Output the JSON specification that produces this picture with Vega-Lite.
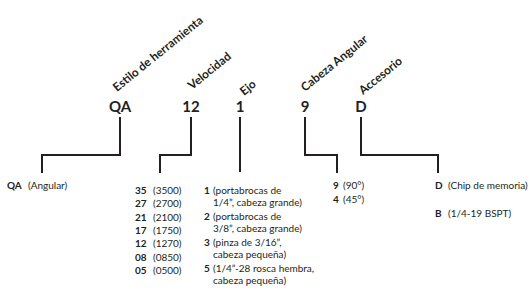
{
  "$schema": "https://vega.github.io/schema/vega-lite/v6.json",
  "width": 532,
  "height": 291,
  "padding": 0,
  "autosize": {"type": "fit", "contains": "padding"},
  "background": "white",
  "config": {"view": {"stroke": null}, "font": "Lato"},
  "datasets": {
    "lines": [
      {"g": "QA", "o": 1, "x": 120, "y": 117}, {"g": "QA", "o": 2, "x": 120, "y": 155}, {"g": "QA", "o": 3, "x": 42, "y": 155}, {"g": "QA", "o": 4, "x": 42, "y": 173},
      {"g": "12", "o": 1, "x": 191, "y": 117}, {"g": "12", "o": 2, "x": 191, "y": 155}, {"g": "12", "o": 3, "x": 160, "y": 155}, {"g": "12", "o": 4, "x": 160, "y": 173},
      {"g": "1", "o": 1, "x": 240, "y": 117}, {"g": "1", "o": 2, "x": 240, "y": 172},
      {"g": "9", "o": 1, "x": 305, "y": 117}, {"g": "9", "o": 2, "x": 305, "y": 155}, {"g": "9", "o": 3, "x": 337, "y": 155}, {"g": "9", "o": 4, "x": 337, "y": 173},
      {"g": "D", "o": 1, "x": 361, "y": 117}, {"g": "D", "o": 2, "x": 361, "y": 155}, {"g": "D", "o": 3, "x": 438, "y": 155}, {"g": "D", "o": 4, "x": 438, "y": 173}
    ],
    "heads": [
      {"t": "QA", "x": 120, "y": 112},
      {"t": "12", "x": 191, "y": 112},
      {"t": "1", "x": 240, "y": 112},
      {"t": "9", "x": 305, "y": 112},
      {"t": "D", "x": 361, "y": 112}
    ],
    "labels": [
      {"t": "Estilo de herramienta", "x": 117, "y": 92},
      {"t": "Velocidad", "x": 192, "y": 90},
      {"t": "Ejo", "x": 244, "y": 96},
      {"t": "Cabeza Angular", "x": 305, "y": 92},
      {"t": "Accesorio", "x": 363, "y": 95}
    ],
    "items": [
      {"code": "QA", "desc": "(Angular)", "cx": 7, "dx": 28, "y": 189},
      {"code": "35", "desc": "(3500)", "cx": 135, "dx": 153, "y": 194},
      {"code": "27", "desc": "(2700)", "cx": 135, "dx": 153, "y": 207},
      {"code": "21", "desc": "(2100)", "cx": 135, "dx": 153, "y": 221},
      {"code": "17", "desc": "(1750)", "cx": 135, "dx": 153, "y": 234},
      {"code": "12", "desc": "(1270)", "cx": 135, "dx": 153, "y": 247},
      {"code": "08", "desc": "(0850)", "cx": 135, "dx": 153, "y": 261},
      {"code": "05", "desc": "(0500)", "cx": 135, "dx": 153, "y": 274},
      {"code": "1", "desc": "(portabrocas de", "cx": 204, "dx": 213, "y": 194},
      {"code": "", "desc": "1/4”, cabeza grande)", "cx": 204, "dx": 213, "y": 206},
      {"code": "2", "desc": "(portabrocas de", "cx": 204, "dx": 213, "y": 220},
      {"code": "", "desc": "3/8”, cabeza grande)", "cx": 204, "dx": 213, "y": 232},
      {"code": "3", "desc": "(pinza de 3/16”,", "cx": 204, "dx": 213, "y": 246},
      {"code": "", "desc": "cabeza pequeña)", "cx": 204, "dx": 213, "y": 258},
      {"code": "5", "desc": "(1/4”-28 rosca hembra,", "cx": 204, "dx": 213, "y": 272},
      {"code": "", "desc": "cabeza pequeña)", "cx": 204, "dx": 213, "y": 284},
      {"code": "9", "desc": "(90°)", "cx": 333, "dx": 343, "y": 189},
      {"code": "4", "desc": "(45°)", "cx": 333, "dx": 343, "y": 203},
      {"code": "D", "desc": "(Chip de memoria)", "cx": 435, "dx": 448, "y": 189},
      {"code": "B", "desc": "(1/4-19 BSPT)", "cx": 435, "dx": 448, "y": 217}
    ]
  },
  "layer": [
    {
      "data": {"name": "lines"},
      "mark": {"type": "line", "stroke": "#231f20", "strokeWidth": 2, "strokeJoin": "miter", "strokeCap": "butt"},
      "encoding": {
        "x": {"field": "x", "type": "quantitative", "scale": {"domain": [0, 532], "nice": false, "zero": false}, "axis": null},
        "y": {"field": "y", "type": "quantitative", "scale": {"domain": [0, 291], "reverse": true, "nice": false, "zero": false}, "axis": null},
        "detail": {"field": "g"},
        "order": {"field": "o", "type": "quantitative"}
      }
    },
    {
      "data": {"name": "heads"},
      "mark": {"type": "text", "font": "Lato", "fontWeight": "bold", "fontSize": 15, "align": "center", "baseline": "alphabetic", "fill": "#231f20"},
      "encoding": {
        "x": {"field": "x", "type": "quantitative"},
        "y": {"field": "y", "type": "quantitative"},
        "text": {"field": "t"}
      }
    },
    {
      "data": {"name": "labels"},
      "mark": {"type": "text", "font": "Lato", "fontWeight": "bold", "fontSize": 11.8, "align": "left", "baseline": "alphabetic", "angle": 321, "fill": "#231f20"},
      "encoding": {
        "x": {"field": "x", "type": "quantitative"},
        "y": {"field": "y", "type": "quantitative"},
        "text": {"field": "t"}
      }
    },
    {
      "data": {"name": "items"},
      "mark": {"type": "text", "font": "Lato", "fontWeight": "bold", "fontSize": 10, "align": "left", "baseline": "alphabetic", "fill": "#231f20"},
      "encoding": {
        "x": {"field": "cx", "type": "quantitative"},
        "y": {"field": "y", "type": "quantitative"},
        "text": {"field": "code"}
      }
    },
    {
      "data": {"name": "items"},
      "mark": {"type": "text", "font": "Lato", "fontWeight": "normal", "fontSize": 10, "align": "left", "baseline": "alphabetic", "fill": "#231f20"},
      "encoding": {
        "x": {"field": "dx", "type": "quantitative"},
        "y": {"field": "y", "type": "quantitative"},
        "text": {"field": "desc"}
      }
    }
  ]
}
